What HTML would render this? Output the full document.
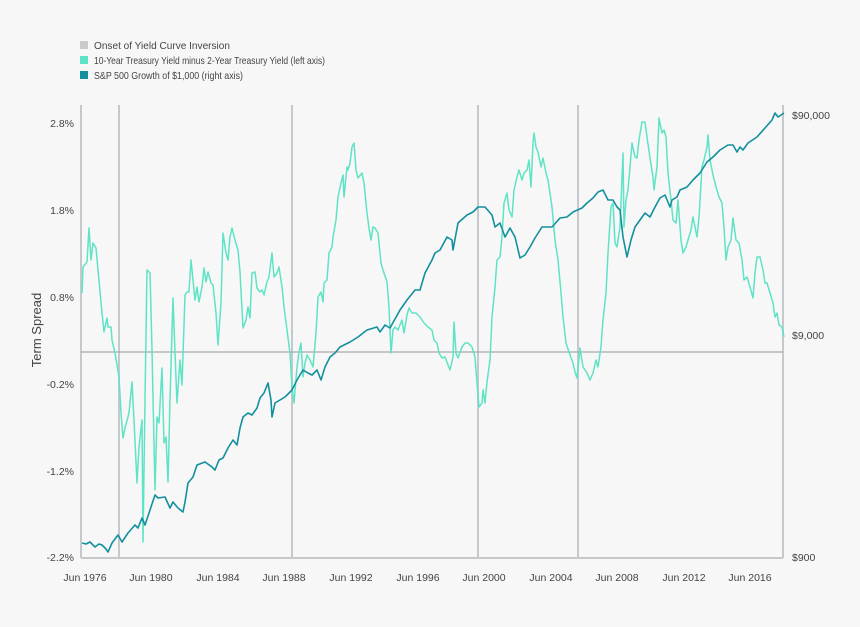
<!DOCTYPE html>
<html><head><meta charset="utf-8"><style>
html,body{margin:0;padding:0;background:#f7f7f7;}
svg{display:block;font-family:"Liberation Sans",sans-serif;}
</style></head><body>
<svg width="860" height="627" viewBox="0 0 860 627">
<rect width="860" height="627" fill="#f7f7f7"/>
<g font-size="10.5" fill="#444">
<rect x="80" y="41" width="8" height="8" fill="#c8cacb"/><text x="94" y="49" textLength="136" lengthAdjust="spacingAndGlyphs">Onset of Yield Curve Inversion</text>
<rect x="80" y="56" width="8" height="8" fill="#5fe3c6"/><text x="94" y="64" textLength="231" lengthAdjust="spacingAndGlyphs">10-Year Treasury Yield minus 2-Year Treasury Yield (left axis)</text>
<rect x="80" y="71" width="8" height="8" fill="#12909e"/><text x="94" y="79" textLength="149" lengthAdjust="spacingAndGlyphs">S&amp;P 500 Growth of $1,000 (right axis)</text>
</g>
<g stroke="#c5c9cc" stroke-width="2">
<line x1="81" y1="105" x2="81" y2="558"/>
<line x1="119" y1="105" x2="119" y2="558"/>
<line x1="292" y1="105" x2="292" y2="558"/>
<line x1="478" y1="105" x2="478" y2="558"/>
<line x1="578" y1="105" x2="578" y2="558"/>
<line x1="783" y1="105" x2="783" y2="558"/>
<line x1="81" y1="558" x2="783" y2="558"/>
</g>
<line x1="81" y1="352" x2="783" y2="352" stroke="#a9a9a9" stroke-width="1.2"/>
<g font-size="10.5" fill="#444" text-anchor="end">
<text x="74" y="127">2.8%</text><text x="74" y="214">1.8%</text><text x="74" y="301">0.8%</text>
<text x="74" y="388">-0.2%</text><text x="74" y="475">-1.2%</text><text x="74" y="561">-2.2%</text>
</g>
<g font-size="10.5" fill="#444">
<text x="792" y="119">$90,000</text><text x="792" y="339">$9,000</text><text x="792" y="561">$900</text>
</g>
<text transform="translate(41,330) rotate(-90)" font-size="13" fill="#444" text-anchor="middle">Term Spread</text>
<g font-size="10.5" fill="#444" text-anchor="middle">
<text x="85" y="581">Jun 1976</text><text x="151" y="581">Jun 1980</text><text x="218" y="581">Jun 1984</text>
<text x="284" y="581">Jun 1988</text><text x="351" y="581">Jun 1992</text><text x="418" y="581">Jun 1996</text>
<text x="484" y="581">Jun 2000</text><text x="551" y="581">Jun 2004</text><text x="617" y="581">Jun 2008</text>
<text x="684" y="581">Jun 2012</text><text x="750" y="581">Jun 2016</text>
</g>
<polyline fill="none" stroke="#5fe3c6" stroke-width="1.5" stroke-linejoin="round" points="82,293 83,267 87,262 89,228 91,260 93,243 96,248 98,270 102,313 104,332 107,318 108,327 111,327 112,340 115,353 119,377 121,413 123,438 125,428 129,413 132,382 134,420 137,483 139,447 142,420 143,542 145,400 147,270 150,273 152,350 155,490 157,417 159,423 162,368 164,443 166,437 168,482 170,400 173,298 175,353 177,403 180,360 182,385 185,295 187,292 189,292 191,260 193,280 195,300 197,287 199,302 202,287 204,268 206,282 208,272 211,283 213,285 216,313 218,345 221,303 223,233 226,253 228,260 230,237 232,228 235,240 238,250 240,272 243,328 246,320 248,307 250,318 252,273 255,272 257,288 260,292 262,290 264,295 267,282 269,277 272,253 274,277 277,273 279,267 282,287 284,307 287,330 290,353 292,387 294,403 297,367 299,352 301,343 303,377 305,363 307,355 310,360 313,367 316,333 318,297 321,292 323,302 324,283 327,280 329,253 332,247 333,237 336,220 338,197 341,183 343,175 344,197 347,167 348,170 350,163 352,147 354,143 356,170 358,178 362,173 364,183 367,213 369,228 371,240 373,227 375,228 378,233 381,263 383,270 387,282 389,307 391,353 393,330 395,327 398,330 402,320 404,333 407,315 409,308 412,313 416,313 420,317 424,323 428,327 432,330 434,340 437,343 439,353 442,358 445,357 450,370 453,357 454,322 456,353 458,358 462,347 465,343 468,343 472,347 475,357 477,383 479,407 482,403 483,390 485,403 487,382 490,360 492,317 495,287 497,260 500,257 502,237 504,203 507,193 509,210 512,217 514,190 517,177 519,170 522,180 524,173 527,170 529,160 531,187 533,143 534,133 536,147 538,152 541,167 543,158 546,173 548,180 552,207 555,240 558,260 561,293 563,317 566,343 569,352 573,363 575,372 577,378 580,348 583,367 587,373 590,380 593,373 596,360 598,367 601,347 603,320 606,293 608,253 611,207 613,203 615,243 617,247 620,227 623,153 624,227 626,200 628,190 630,167 632,143 635,157 637,158 639,140 642,122 645,122 647,137 650,158 653,177 654,190 657,167 659,118 662,133 664,130 666,137 668,173 671,200 673,220 676,223 678,200 681,240 683,253 686,247 688,240 691,230 693,217 695,227 697,237 699,217 702,167 704,160 707,147 708,135 710,160 713,175 716,187 719,197 722,203 724,227 726,260 728,247 731,240 733,218 736,240 739,243 742,260 744,280 747,277 750,287 753,298 755,273 757,257 760,257 763,270 765,283 767,283 770,293 773,303 775,317 777,313 779,325 782,327 784,337"/>
<polyline fill="none" stroke="#12909e" stroke-width="1.6" stroke-linejoin="round" points="82,543 86,544 90,542 95,547 99,544 102,545 106,549 108,552 112,543 118,535 122,542 128,533 135,525 138,528 142,518 145,525 150,510 155,495 158,498 165,497 170,508 173,502 178,508 183,512 185,502 188,483 193,477 197,465 205,462 212,467 215,470 219,460 223,458 228,448 233,440 237,445 240,428 243,417 248,413 252,415 257,408 260,398 264,393 268,383 271,400 272,417 275,403 280,400 285,397 292,390 297,380 303,370 308,373 312,375 317,370 321,380 325,367 330,357 335,353 340,347 350,342 358,337 367,330 377,327 380,332 385,325 390,328 400,310 407,300 415,290 420,290 425,273 432,260 435,253 440,250 447,237 452,240 453,250 458,223 467,215 473,212 478,207 485,207 492,215 495,227 500,223 505,237 510,228 515,237 520,258 525,255 530,247 535,238 542,227 550,227 552,227 560,218 567,217 573,212 582,208 587,203 593,198 598,192 603,190 608,200 613,200 617,207 620,210 623,237 627,257 631,240 635,227 640,220 645,213 650,217 655,207 660,198 665,195 670,207 672,200 677,197 680,190 687,187 693,180 700,173 707,162 713,157 720,150 728,145 733,145 737,152 740,147 743,150 748,143 757,137 765,128 772,120 775,113 778,117 784,113"/>
</svg>
</body></html>
